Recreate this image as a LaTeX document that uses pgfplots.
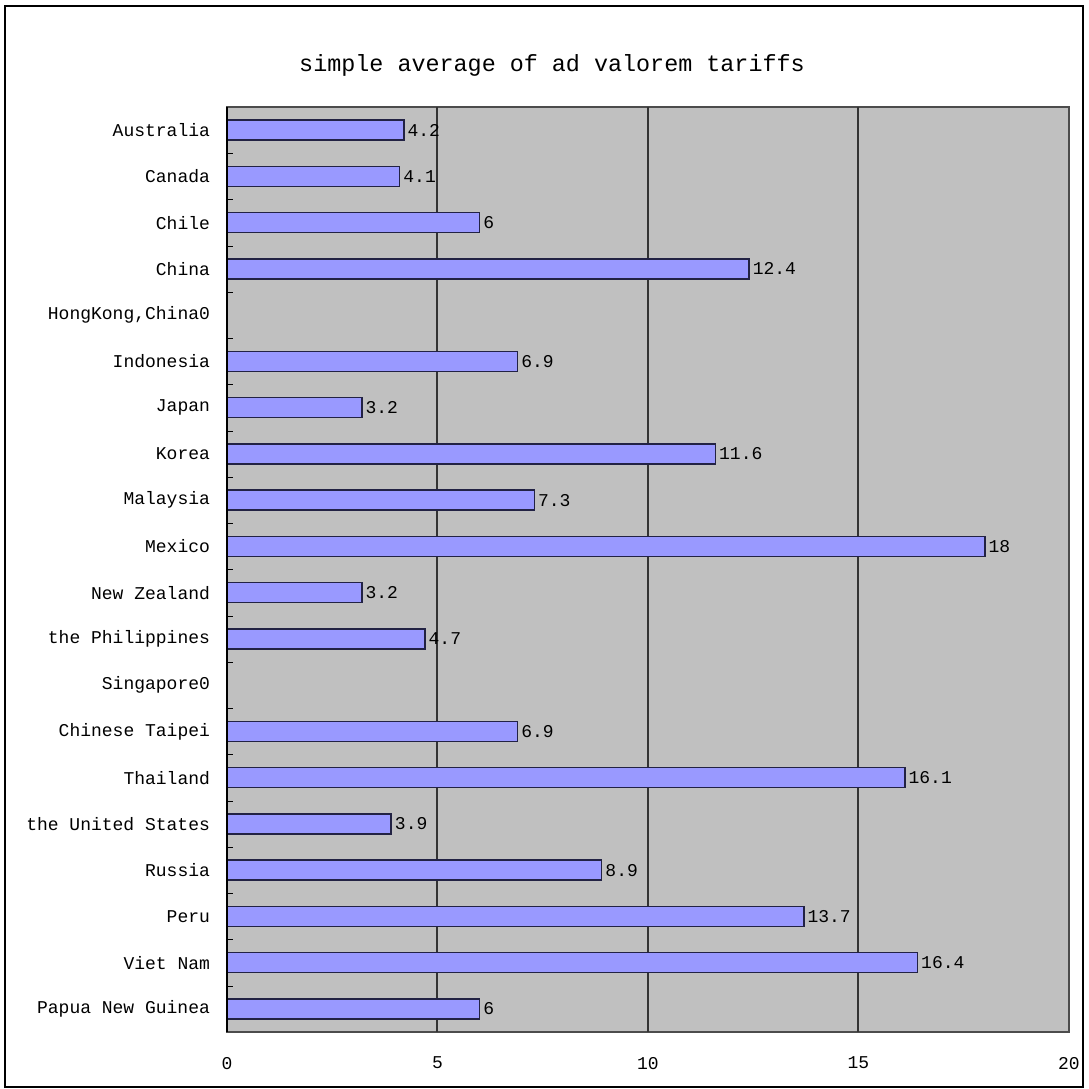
\documentclass[border=0pt]{standalone}
\usepackage{fontspec}
\setmainfont{Liberation Mono}
\usepackage{pgfplots}
\pgfplotsset{compat=1.18}
\definecolor{barfill}{HTML}{9999FF}
\definecolor{plotbg}{HTML}{C0C0C0}
\definecolor{baredge}{HTML}{222244}
\begin{document}
\begin{tikzpicture}
\begin{axis}[
  scale only axis, width=421pt, height=462.5pt,
  xbar, bar width=10pt,
  xmin=0, xmax=20, xtick={0,5,10,15,20},
  ymin=-0.5, ymax=19.5, y dir=reverse,
  ytick={0,...,19},
  yticklabels={Australia,Canada,Chile,China,{HongKong,China0},Indonesia,Japan,Korea,Malaysia,Mexico,New Zealand,the Philippines,Singapore0,Chinese Taipei,Thailand,the United States,Russia,Peru,Viet Nam,Papua New Guinea},
  minor ytick={0.5,1.5,...,18.5},
  ytick pos=left, xtick pos=bottom,
  minor tick length=3pt, major tick length=0pt, tick align=inside,
  minor tick style={black},
  axis background/.style={fill=plotbg},
  axis line style={black!70, line width=0.6pt},
  extra x ticks={5,10,15}, extra x tick labels={},
  extra x tick style={grid=major, major tick length=0pt},
  major grid style={black!80, line width=1pt},
  /pgf/number format/assume math mode=true,
  tick label style={font=\fontsize{9}{10}\selectfont},
  yticklabel style={xshift=-5pt},
  xticklabel style={yshift=-9pt},
  nodes near coords, nodes near coords align=horizontal,
  every node near coord/.append style={font=\fontsize{9}{10}\selectfont, black, anchor=west, inner sep=1.5pt},
  clip=false,
]
\addplot[fill=barfill, draw=baredge, line width=0.8pt] coordinates {
  (4.2,0) (4.1,1) (6,2) (12.4,3) (6.9,5) (3.2,6) (11.6,7) (7.3,8) (18,9)
  (3.2,10) (4.7,11) (6.9,13) (16.1,14) (3.9,15) (8.9,16) (13.7,17) (16.4,18) (6,19)
};
\draw[black, line width=0.9pt] (axis description cs:0,0) -- (axis description cs:0,1);
\coordinate (SW) at (axis description cs:0,0);
\coordinate (NE) at (axis description cs:1,1);
\end{axis}
\draw[black, line width=0.8pt] ([xshift=-111pt,yshift=-27.5pt]SW) rectangle ([xshift=7pt,yshift=50.5pt]NE);
\node[font=\fontsize{11.7}{13}\selectfont] at ([xshift=162.5pt,yshift=21pt]SW |- NE) {simple average of ad valorem tariffs};
\useasboundingbox ([xshift=-113.5pt,yshift=-28.5pt]SW) rectangle ([xshift=10pt,yshift=53.5pt]NE);
\end{tikzpicture}
\end{document}
